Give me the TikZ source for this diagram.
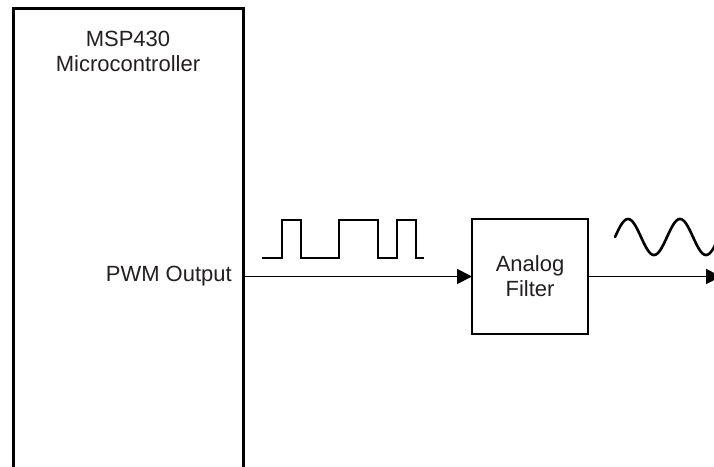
\documentclass[tikz,border=0pt]{standalone}
\usepackage{fontspec}
\setmainfont{Liberation Sans}
\usetikzlibrary{arrows.meta}
\definecolor{txt}{HTML}{231F20}
\begin{document}
\begin{tikzpicture}[x=1pt,y=-1pt,
  box/.style={draw=black, line width=3pt, outer sep=0pt, inner sep=0pt, rectangle},
  lbl/.style={text=txt, font=\fontsize{22}{25}\selectfont, inner sep=0pt, align=center},
  conn/.style={draw=black, line width=1.8pt, -{Triangle[length=15pt,width=15pt]}},
  wave/.style={draw=black, line width=2.6pt},
]
\useasboundingbox (0,0) rectangle (714,466);
\clip (0,0) rectangle (714,466);
\node[box, minimum width=230pt, minimum height=500pt, anchor=north west] (mcu) at (13.5,8.5) {};
\node[lbl, anchor=north] (mcutext) at (128,30.5) {MSP430\\Microcontroller};
\node[lbl, anchor=base east] (pwmtext) at (232,281.5) {PWM Output};
\node[box, lbl, line width=2.8pt, minimum width=116pt, minimum height=115pt] (filter) at (530,276.5) {Analog\\Filter};
\coordinate (out) at (721,277);
\draw[conn] (mcu.east |- filter.west) -- (filter.west);
\draw[conn] (filter.east) -- (filter.east -| out);
\draw[wave] (262,258) -- (282,258) -- (282,220) -- (301,220) -- (301,258) -- (339,258)
  -- (339,220) -- (378,220) -- (378,258) -- (397,258) -- (397,220) -- (416,220)
  -- (416,258) -- (424,258);
\draw[wave, line cap=round] plot[domain=0:104, samples=120, smooth] ({615+\x}, {237-18*sin(\x/52*360)});
\end{tikzpicture}
\end{document}
